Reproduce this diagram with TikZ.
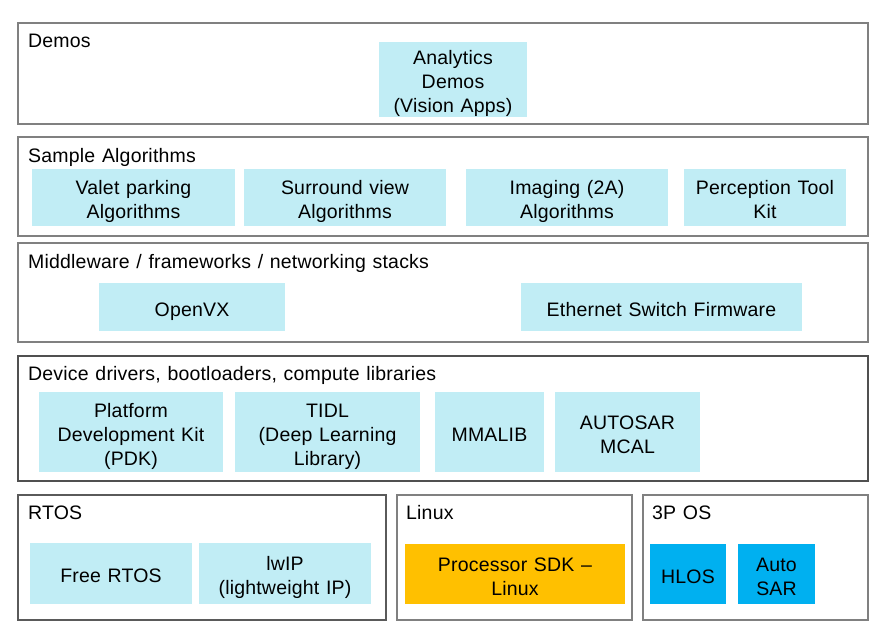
\documentclass[tikz,border=0pt]{standalone}
\usepackage{fontspec}
\setmainfont{Liberation Sans}[LetterSpace=1.0, WordSpace=1.2]
\definecolor{lcyan}{HTML}{C1EDF5}
\definecolor{sdkorange}{HTML}{FFC000}
\definecolor{osblue}{HTML}{00B0F0}
\definecolor{framegray}{HTML}{808080}
\definecolor{framedark}{HTML}{505050}
\newcommand\tstr{\rule{0pt}{1.15em}}
\newcommand\bstr{\rule[-0.21em]{0pt}{0pt}}
\begin{document}
\begin{tikzpicture}[x=1pt,y=-1pt,
  layer/.style={draw=framegray, line width=1.2pt, fill=white, anchor=north west, inner sep=0pt, outer sep=0pt},
  ttl/.style={anchor=base west, inner sep=0pt, font=\fontsize{19.5}{24}\selectfont},
  comp/.style={fill=lcyan, anchor=north west, inner sep=0pt, outer sep=0pt, align=center,
    font=\fontsize{19.5}{24}\selectfont},
  sdkbox/.style={comp, fill=sdkorange},
  osbox/.style={comp, fill=osblue}]
\useasboundingbox (0,0) rectangle (873,629);

% layers
\node[layer, minimum width=850pt, minimum height=101pt] (demos) at (18,23) {};
\node[layer, minimum width=850pt, minimum height=99pt] (sample) at (18,137) {};
\node[layer, minimum width=850pt, minimum height=99pt] (middle) at (18,243) {};
\node[layer, draw=framedark, minimum width=850pt, minimum height=125pt] (device) at (18,356) {};
\node[layer, draw=framedark!80!framegray, minimum width=368pt, minimum height=125pt] (rtos) at (18,495) {};
\node[layer, minimum width=235pt, minimum height=125pt] (linux) at (397,495) {};
\node[layer, minimum width=225pt, minimum height=125pt] (tpos) at (643,495) {};

% titles
\node[ttl] (tdemos) at (28,47) {Demos};
\node[ttl] (tsample) at (28,162) {Sample Algorithms};
\node[ttl] (tmiddle) at (28,268) {Middleware / frameworks / networking stacks};
\node[ttl] (tdevice) at (28,380) {Device drivers, bootloaders, compute libraries};
\node[ttl] (trtos) at (28,519) {RTOS};
\node[ttl] (tlinux) at (406,519) {Linux};
\node[ttl] (ttpos) at (652,519) {3P OS};

% components
\node[comp, minimum width=148pt, minimum height=73pt] (analytics) at (379,42) {\tstr Analytics\\Demos\\(Vision Apps)\bstr};
\node[comp, minimum width=203pt, minimum height=57pt] (valet) at (32,169) {\tstr Valet parking\\Algorithms\bstr};
\node[comp, minimum width=202pt, minimum height=57pt] (surround) at (244,169) {\tstr Surround view\\Algorithms\bstr};
\node[comp, minimum width=202pt, minimum height=57pt] (imaging) at (466,169) {\tstr Imaging (2A)\\Algorithms\bstr};
\node[comp, minimum width=162pt, minimum height=57pt] (perception) at (684,169) {\tstr Perception Tool\\Kit\bstr};
\node[comp, minimum width=186pt, minimum height=48pt] (openvx) at (99,283) {\tstr OpenVX\bstr};
\node[comp, minimum width=281pt, minimum height=48pt] (ethernet) at (521,283) {\tstr Ethernet Switch Firmware\bstr};
\node[comp, minimum width=184pt, minimum height=80pt] (pdk) at (39,392) {\tstr Platform\\Development Kit\\(PDK)\bstr};
\node[comp, minimum width=185pt, minimum height=80pt] (tidl) at (235,392) {\tstr TIDL\\(Deep Learning\\Library)\bstr};
\node[comp, minimum width=109pt, minimum height=80pt] (mmalib) at (435,392) {\tstr MMALIB\bstr};
\node[comp, minimum width=145pt, minimum height=80pt] (mcal) at (555,392) {\tstr AUTOSAR\\MCAL\bstr};
\node[comp, minimum width=162pt, minimum height=61pt] (freertos) at (30,543) {\tstr Free RTOS\bstr};
\node[comp, minimum width=172pt, minimum height=61pt] (lwip) at (199,543) {\tstr lwIP\\(lightweight IP)\bstr};
\node[sdkbox, minimum width=220pt, minimum height=60pt] (sdk) at (405,544) {\tstr Processor SDK --\\Linux\bstr};
\node[osbox, minimum width=76pt, minimum height=60pt] (hlos) at (650,544) {\tstr HLOS\bstr};
\node[osbox, minimum width=77pt, minimum height=60pt] (autosar) at (738,544) {\tstr Auto\\SAR\bstr};
\end{tikzpicture}
\end{document}
